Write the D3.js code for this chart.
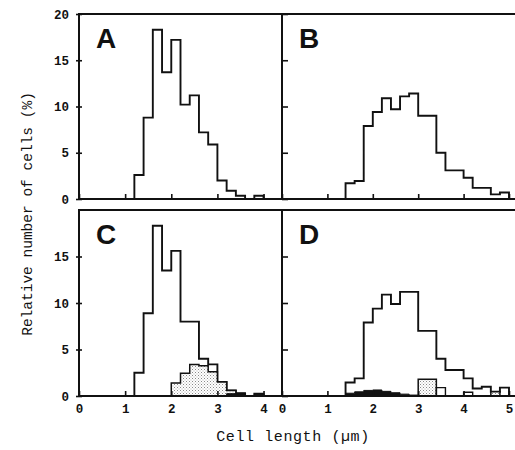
<!DOCTYPE html>
<html>
<head>
<meta charset="utf-8">
<script src="https://cdn.jsdelivr.net/npm/d3@7"></script>
<style>
  body { margin: 0; background: #fff; }
</style>
</head>
<body>
<div id="chart"></div>
<script>
// histogram data, bins are 0.2 um wide, values are % of cells

const binWidth = 0.2;

// panel A
const binsA = [1.2, 1.4, 1.6, 1.8, 2.0, 2.2, 2.4, 2.6, 2.8, 3.0, 3.2, 3.4, 3.6, 3.8];
const countsA = [2.6, 8.8, 18.3, 13.7, 17.2, 10.2, 11.2, 7.2, 5.9, 2.0, 0.9, 0.35, 0, 0.35];

// panel B
const binsB = [1.4, 1.6, 1.8, 2.0, 2.2, 2.4, 2.6, 2.8, 3.0, 3.2, 3.4, 3.6, 3.8, 4.0, 4.2, 4.4, 4.6, 4.8];
const countsB = [1.7, 1.95, 7.9, 9.4, 10.9, 9.7, 11.1, 11.4, 9.0, 9.0, 5.0, 3.1, 3.1, 2.3, 1.2, 1.2, 0.5, 0.7];

// panel C
const binsC = [1.2, 1.4, 1.6, 1.8, 2.0, 2.2, 2.4, 2.6, 2.8, 3.0, 3.2, 3.4, 3.6, 3.8];
const countsC = [2.5, 8.9, 18.3, 13.5, 15.6, 8.0, 8.0, 4.0, 3.4, 1.5, 0.6, 0.3, 0, 0.25];
const stippleBinsC = [2.0, 2.2, 2.4, 2.6, 2.8, 3.0, 3.2];
const stippleC = [1.4, 2.45, 3.4, 3.25, 2.6, 1.5, 0.6];
const blackBinsC = [3.2, 3.4, 3.8];
const blackC = [0.25, 0.3, 0.2];

// panel D
const binsD = [1.4, 1.6, 1.8, 2.0, 2.2, 2.4, 2.6, 2.8, 3.0, 3.2, 3.4, 3.6, 3.8, 4.0, 4.2, 4.4, 4.6, 4.8];
const countsD = [1.45, 1.9, 7.9, 9.4, 10.9, 9.9, 11.2, 11.2, 7.0, 7.0, 4.0, 2.8, 2.8, 1.9, 0.8, 1.0, 0.45, 0.9];
const stippleBinsD = [3.0, 3.2, 4.6];
const stippleD = [1.8, 1.8, 0.45];
const openBinsD = [3.4, 4.0];
const openD = [0.9, 0.4];
const blackBinsD = [1.4, 1.6, 1.8, 2.0, 2.2, 2.4, 2.6, 2.8];
const blackD = [0.3, 0.45, 0.6, 0.65, 0.5, 0.35, 0.2, 0.1];

// tick values
const yTicksTop = [0, 5, 10, 15, 20];
const yTicksBottom = [0, 5, 10, 15];
const xTicksLeft = [0, 1, 2, 3, 4];
const xTicksRight = [0, 1, 2, 3, 4, 5];

let svgWidth = 515;
let svgHeight = 450;

let svg = d3.select("#chart")
  .append("svg")
  .attr("width", svgWidth)
  .attr("height", svgHeight);

// stipple fill pattern
let pat = svg.append("defs").append("pattern")
  .attr("id", "stipple")
  .attr("width", 3)
  .attr("height", 3)
  .attr("patternUnits", "userSpaceOnUse");
pat.append("rect").attr("width", 3).attr("height", 3).attr("fill", "#fff");
pat.append("rect").attr("x", 0).attr("y", 0).attr("width", 1).attr("height", 1).attr("fill", "#8a8a8a");
pat.append("rect").attr("x", 1.5).attr("y", 1.5).attr("width", 1).attr("height", 1).attr("fill", "#b0b0b0");

// scales
let xLeft = d3.scaleLinear().domain([0, 4.4]).range([79, 282]);
let xRight = d3.scaleLinear().domain([0, 5]).range([282, 509]);
let yTop = d3.scaleLinear().domain([0, 20]).range([199, 14]);
let yBottom = d3.scaleLinear().domain([0, 20]).range([396, 210]);

// turn bins + values into step outline points (drops to 0 over gaps)
function stepPoints(bins, vals) {
  let pts = [[bins[0], 0]];
  let prevEnd = bins[0];
  bins.forEach(function(b, i) {
    if (Math.abs(b - prevEnd) > 1e-6) {
      pts.push([prevEnd, 0]);
      pts.push([b, 0]);
    }
    pts.push([b, vals[i]]);
    pts.push([b + binWidth, vals[i]]);
    prevEnd = b + binWidth;
  });
  pts.push([prevEnd, 0]);
  return pts;
}

function drawPanel(cfg) {
  let x = cfg.x, y = cfg.y;
  let g = svg.append("g");
  let line = d3.line().x(d => x(d[0])).y(d => y(d[1]));

  // total outline
  g.append("path")
    .attr("d", line(stepPoints(cfg.bins, cfg.counts)))
    .attr("fill", "none")
    .attr("stroke", "#111")
    .attr("stroke-width", 1.9)
    .attr("stroke-linejoin", "miter");

  if (cfg.stippleBins) {
    g.append("path")
      .attr("d", line(stepPoints(cfg.stippleBins, cfg.stipple)))
      .attr("fill", "url(#stipple)")
      .attr("stroke", "#111")
      .attr("stroke-width", 1.5);
  }
  if (cfg.openBins) {
    g.append("path")
      .attr("d", line(stepPoints(cfg.openBins, cfg.open)))
      .attr("fill", "none")
      .attr("stroke", "#111")
      .attr("stroke-width", 1.4);
  }
  if (cfg.blackBins) {
    g.append("path")
      .attr("d", line(stepPoints(cfg.blackBins, cfg.black)))
      .attr("fill", "#111")
      .attr("stroke", "#111")
      .attr("stroke-width", 1);
  }

  // x ticks (inward) along the bottom
  let xAxis = g.append("g")
    .attr("transform", `translate(0, ${y(0)})`)
    .call(d3.axisBottom(x).tickValues(cfg.xTicks).tickSize(-5).tickPadding(8)
      .tickFormat(cfg.xLabels ? d3.format("d") : ""));
  xAxis.select(".domain").remove();

  // y ticks
  let yAxis = g.append("g")
    .attr("transform", `translate(${x(0)}, 0)`)
    .call(d3.axisLeft(y).tickValues(cfg.yTicks).tickSize(cfg.yLabels ? 3 : -6).tickPadding(7)
      .tickFormat(cfg.yLabels ? d3.format("d") : ""));
  yAxis.select(".domain").remove();
  if (cfg.yLabels) {
    yAxis.selectAll(".tick line").attr("x1", 3);
  }

  [xAxis, yAxis].forEach(function(a) {
    a.selectAll(".tick line").attr("stroke", "#111").attr("stroke-width", 1.6);
    a.selectAll(".tick text")
      .attr("fill", "#111")
      .style("font-family", "'Liberation Mono', 'DejaVu Sans Mono', monospace")
      .style("font-weight", "bold")
      .style("font-size", "12.5px");
  });

  // panel letter
  g.append("text")
    .attr("x", x(0) + 17)
    .attr("y", y(20) + 34)
    .text(cfg.letter)
    .style("font-family", "'Liberation Sans', Arial, sans-serif")
    .style("font-weight", "bold")
    .style("font-size", "28px")
    .style("fill", "#111");
}

drawPanel({ x: xLeft, y: yTop, bins: binsA, counts: countsA, letter: "A",
  xTicks: xTicksLeft, yTicks: yTicksTop, xLabels: false, yLabels: true });
drawPanel({ x: xRight, y: yTop, bins: binsB, counts: countsB, letter: "B",
  xTicks: xTicksRight, yTicks: yTicksTop, xLabels: false, yLabels: false });
drawPanel({ x: xLeft, y: yBottom, bins: binsC, counts: countsC, letter: "C",
  stippleBins: stippleBinsC, stipple: stippleC, blackBins: blackBinsC, black: blackC,
  xTicks: xTicksLeft, yTicks: yTicksBottom, xLabels: true, yLabels: true });
drawPanel({ x: xRight, y: yBottom, bins: binsD, counts: countsD, letter: "D",
  stippleBins: stippleBinsD, stipple: stippleD, openBins: openBinsD, open: openD,
  blackBins: blackBinsD, black: blackD,
  xTicks: xTicksRight, yTicks: yTicksBottom, xLabels: true, yLabels: false });

// frames: top, bottom, left axis and the divider for each row
[yTop, yBottom].forEach(function(y) {
  let frame = svg.append("g").attr("stroke", "#111").attr("stroke-width", 2);
  frame.append("line").attr("x1", xLeft(0) - 1).attr("x2", svgWidth).attr("y1", y(20)).attr("y2", y(20));
  frame.append("line").attr("x1", xLeft(0) - 1).attr("x2", svgWidth).attr("y1", y(0)).attr("y2", y(0));
  frame.append("line").attr("x1", xLeft(0)).attr("x2", xLeft(0)).attr("y1", y(20)).attr("y2", y(0));
  frame.append("line").attr("x1", xRight(0)).attr("x2", xRight(0)).attr("y1", y(20)).attr("y2", y(0));
});

// axis titles
svg.append("text")
  .attr("x", 293)
  .attr("y", 441)
  .attr("text-anchor", "middle")
  .style("font-family", "'Liberation Mono', 'DejaVu Sans Mono', monospace")
  .style("font-size", "15px")
  .style("letter-spacing", "0.6px")
  .style("fill", "#111")
  .text("Cell length (\u00b5m)");

svg.append("text")
  .attr("transform", "rotate(-90)")
  .attr("x", -214)
  .attr("y", 32)
  .attr("text-anchor", "middle")
  .style("font-family", "'Liberation Mono', 'DejaVu Sans Mono', monospace")
  .style("font-size", "14.5px")
  .style("fill", "#111")
  .text("Relative number of cells (%)");
</script>
</body>
</html>
